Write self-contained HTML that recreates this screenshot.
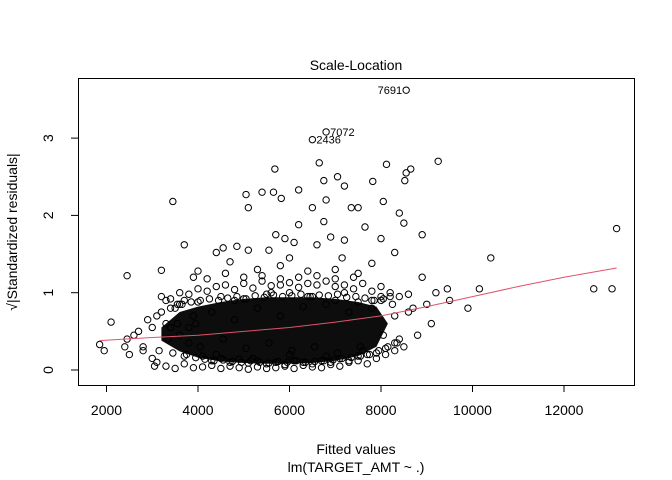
<!DOCTYPE html>
<html><head><meta charset="utf-8"><style>
html,body{margin:0;padding:0;background:#fff}
svg{display:block;font-family:"Liberation Sans",Arial,sans-serif}
</style></head><body>
<svg id="chart" width="672" height="480" viewBox="0 0 672 480">
<rect x="0" y="0" width="672" height="480" fill="#fff"/>
<text x="356" y="70" text-anchor="middle" font-size="14">Scale-Location</text>
<text x="356" y="454" text-anchor="middle" font-size="14">Fitted values</text>
<text x="356" y="472" text-anchor="middle" font-size="14">lm(TARGET_AMT ~ .)</text>
<text transform="translate(17,232) rotate(-90)" text-anchor="middle" font-size="14">√|Standardized residuals|</text>
<g id="marks"></g>
<g id="axes"></g>
<rect x="78.5" y="78.5" width="556" height="307" fill="none" stroke="#000"/>
</svg>
<script>
const xTicks=[2000,4000,6000,8000,10000,12000];
const yTicks=[0,1,2,3];
const fitted=[8550,6800,6500,9250,5680,8120,6650,7820,6200,6750,7050,7200,8550,8650,8520,3450,5050,5400,5650,5820,5100,6500,6800,7350,8050,7500,8400,8900,13150,3700,4550,4850,5550,5900,6100,6600,6900,7200,7650,8000,8500,6750,6200,5700,4400,5100,6000,7150,7800,8300,10400,2450,3200,4000,4700,5300,5800,6400,7000,7500,8900,9450,10150,12650,13050,9900,9200,9500,9000,2100,1850,1950,2400,2500,2800,3000,3050,
2450,2700,2900,3100,3200,3300,3400,3500,3600,3700,3800,3900,2600,2800,3000,3150,3350,3550,3750,3950,
3100,3300,3500,3700,3900,4100,4300,4500,4700,4900,5100,5300,5500,5700,5900,6100,6300,6500,6700,6900,7100,7300,7500,7700,7900,8100,8300,8500,
3200,3400,3600,3800,4000,4200,4400,4600,4800,5000,5200,5400,5600,5800,6000,6200,6400,6600,6800,7000,7200,7400,7600,7800,8000,8200,8400,8600,
4100,4300,4500,4700,4900,5100,5300,5500,5700,5900,6100,6300,6500,6700,6900,7100,7300,7500,7700,7900,8100,8300,
3900,4200,4600,5000,5400,5800,6200,6600,7000,7400,7800,8200,8700,8800,9100,
4400,4800,5200,5600,6000,6400,6800,7200,7600,8000,8400,
3300,3600,4000,4500,5000,5500,6000,6500,7000,7500,8000,8600,
3400,3650,3850,4050,4250,4450,4650,4850,5050,5250,5450,5650,5850,6050,6250,6450,6650,6850,7050,7250,7450,7650,7850,8050,8250,
3450,3700,3950,4150,4350,4550,4750,4950,5150,5350,5550,5750,5950,6150,6350,6550,6750,6950,7150,7350,7550,7750,7950,8150,8350,
3550,3800,4050,4300,4550,4800,5050,5300,5550,5800,6050,6300,6550,6800,7050,7300,7550,7800,8050,8300];
const sqrtResid=[3.62,3.08,2.98,2.7,2.6,2.66,2.68,2.44,2.33,2.45,2.5,2.38,2.55,2.6,2.45,2.18,2.27,2.3,2.3,2.22,2.1,2.1,2.2,2.1,2.18,2.1,2.03,1.75,1.83,1.62,1.58,1.6,1.55,1.7,1.65,1.62,1.72,1.68,1.85,1.7,1.9,1.92,1.88,1.75,1.52,1.55,1.45,1.45,1.38,1.52,1.45,1.22,1.29,1.28,1.4,1.3,1.35,1.28,1.3,1.25,1.2,1.05,1.05,1.05,1.05,0.8,1.0,0.9,0.85,0.62,0.33,0.25,0.3,0.2,0.25,0.15,0.05,
0.4,0.5,0.65,0.7,0.75,0.6,0.55,0.8,0.45,0.9,0.35,0.7,0.45,0.3,0.55,0.25,0.4,0.85,0.2,0.6,
0.1,0.05,0.02,0.08,0.03,0.04,0.06,0.02,0.05,0.03,0.01,0.04,0.02,0.03,0.05,0.02,0.06,0.04,0.03,0.07,0.05,0.1,0.12,0.08,0.15,0.2,0.25,0.3,
0.95,0.92,1.0,0.98,1.05,1.02,1.08,1.1,1.04,1.12,1.06,1.15,1.09,1.1,1.13,1.07,1.12,1.1,1.15,1.08,1.1,1.05,1.12,1.02,1.08,1.0,0.95,0.98,
0.18,0.12,0.15,0.1,0.14,0.09,0.12,0.08,0.1,0.07,0.12,0.1,0.08,0.12,0.1,0.15,0.12,0.18,0.2,0.22,0.28,0.35,
1.2,1.18,1.25,1.2,1.22,1.18,1.2,1.22,1.18,1.2,0.9,0.95,0.8,0.45,0.6,
0.2,0.9,0.15,1.0,0.2,0.95,0.18,1.0,0.25,0.95,0.4,
0.9,0.85,0.88,0.95,0.92,0.98,1.0,0.95,0.9,0.88,0.9,0.75,
0.8,0.85,0.88,0.9,0.92,0.9,0.93,0.95,0.92,0.96,0.94,0.97,0.95,0.96,0.98,0.95,0.97,0.96,0.98,0.94,0.95,0.93,0.9,0.92,0.85,
0.22,0.18,0.16,0.14,0.12,0.13,0.11,0.1,0.12,0.1,0.09,0.11,0.1,0.12,0.1,0.11,0.12,0.13,0.15,0.16,0.18,0.2,0.25,0.3,0.35,
0.6,0.55,0.3,0.75,0.4,0.65,0.28,0.8,0.35,0.7,0.25,0.82,0.3,0.85,0.22,0.75,0.3,0.8,0.45,0.7];
const loessX=[1850,3000,4000,5000,6000,7000,8000,9000,10000,11000,12000,13150];
const loessY=[0.38,0.42,0.45,0.5,0.55,0.62,0.7,0.82,0.95,1.08,1.2,1.32];
const coreX=[3200,3600,4000,4500,5000,5500,6000,6500,7000,7500,7900,8150,7900,7500,7000,6500,6000,5500,5000,4500,4000,3600,3200];
const coreY=[0.55,0.75,0.82,0.88,0.92,0.94,0.94,0.94,0.92,0.88,0.82,0.6,0.3,0.18,0.12,0.09,0.08,0.08,0.09,0.11,0.16,0.24,0.38];
const labelIdx=[0,1,2];
const labelTxt=["7691","7072","2436"];
const labelSide=[-1,1,1];

const X=v=>106.5+(v-2000)*0.04575;
const Y=v=>370-77.3*v;
const NS="http://www.w3.org/2000/svg";
const marks=document.getElementById('marks');
const axes=document.getElementById('axes');
function mk(t,a,p){const e=document.createElementNS(NS,t);for(const k in a)e.setAttribute(k,a[k]);p.appendChild(e);return e;}

let d='';
coreX.forEach((v,i)=>{d+=(i?'L':'M')+X(v).toFixed(1)+' '+Y(coreY[i]).toFixed(1);});
const core=mk('path',{d:d+'Z',fill:'#000','fill-opacity':0.95},marks);



fitted.forEach((v,i)=>{
  const c=mk('circle',{cx:X(v),cy:Y(sqrtResid[i]),r:3.2,fill:'none',stroke:'#000','stroke-width':1},marks);
  
  
});
let ld='';
loessX.forEach((v,i)=>{ld+=(i?'L':'M')+X(v).toFixed(1)+' '+Y(loessY[i]).toFixed(1);});
const ln=mk('path',{d:ld,fill:'none',stroke:'#DF536B','stroke-width':1},marks);



labelIdx.forEach((k,j)=>{
  const t=mk('text',{x:X(fitted[k])+labelSide[j]*4,y:Y(sqrtResid[k])+4,'font-size':11,'text-anchor':labelSide[j]<0?'end':'start'},marks);
  t.textContent=labelTxt[j];
  
  
});

xTicks.forEach(v=>{
  const l=mk('line',{x1:X(v),x2:X(v),y1:385,y2:392,stroke:'#000'},axes);
  
  
  const t=mk('text',{x:X(v),y:415,'text-anchor':'middle','font-size':14},axes);
  t.textContent=v;
  
  
});
yTicks.forEach(v=>{
  const l=mk('line',{x1:71,x2:78.5,y1:Y(v),y2:Y(v),stroke:'#000'},axes);
  
  
  const t=mk('text',{transform:`translate(53,${Y(v)}) rotate(-90)`,'text-anchor':'middle','font-size':14},axes);
  t.textContent=v;
  
  
});
</script>
</body></html>
